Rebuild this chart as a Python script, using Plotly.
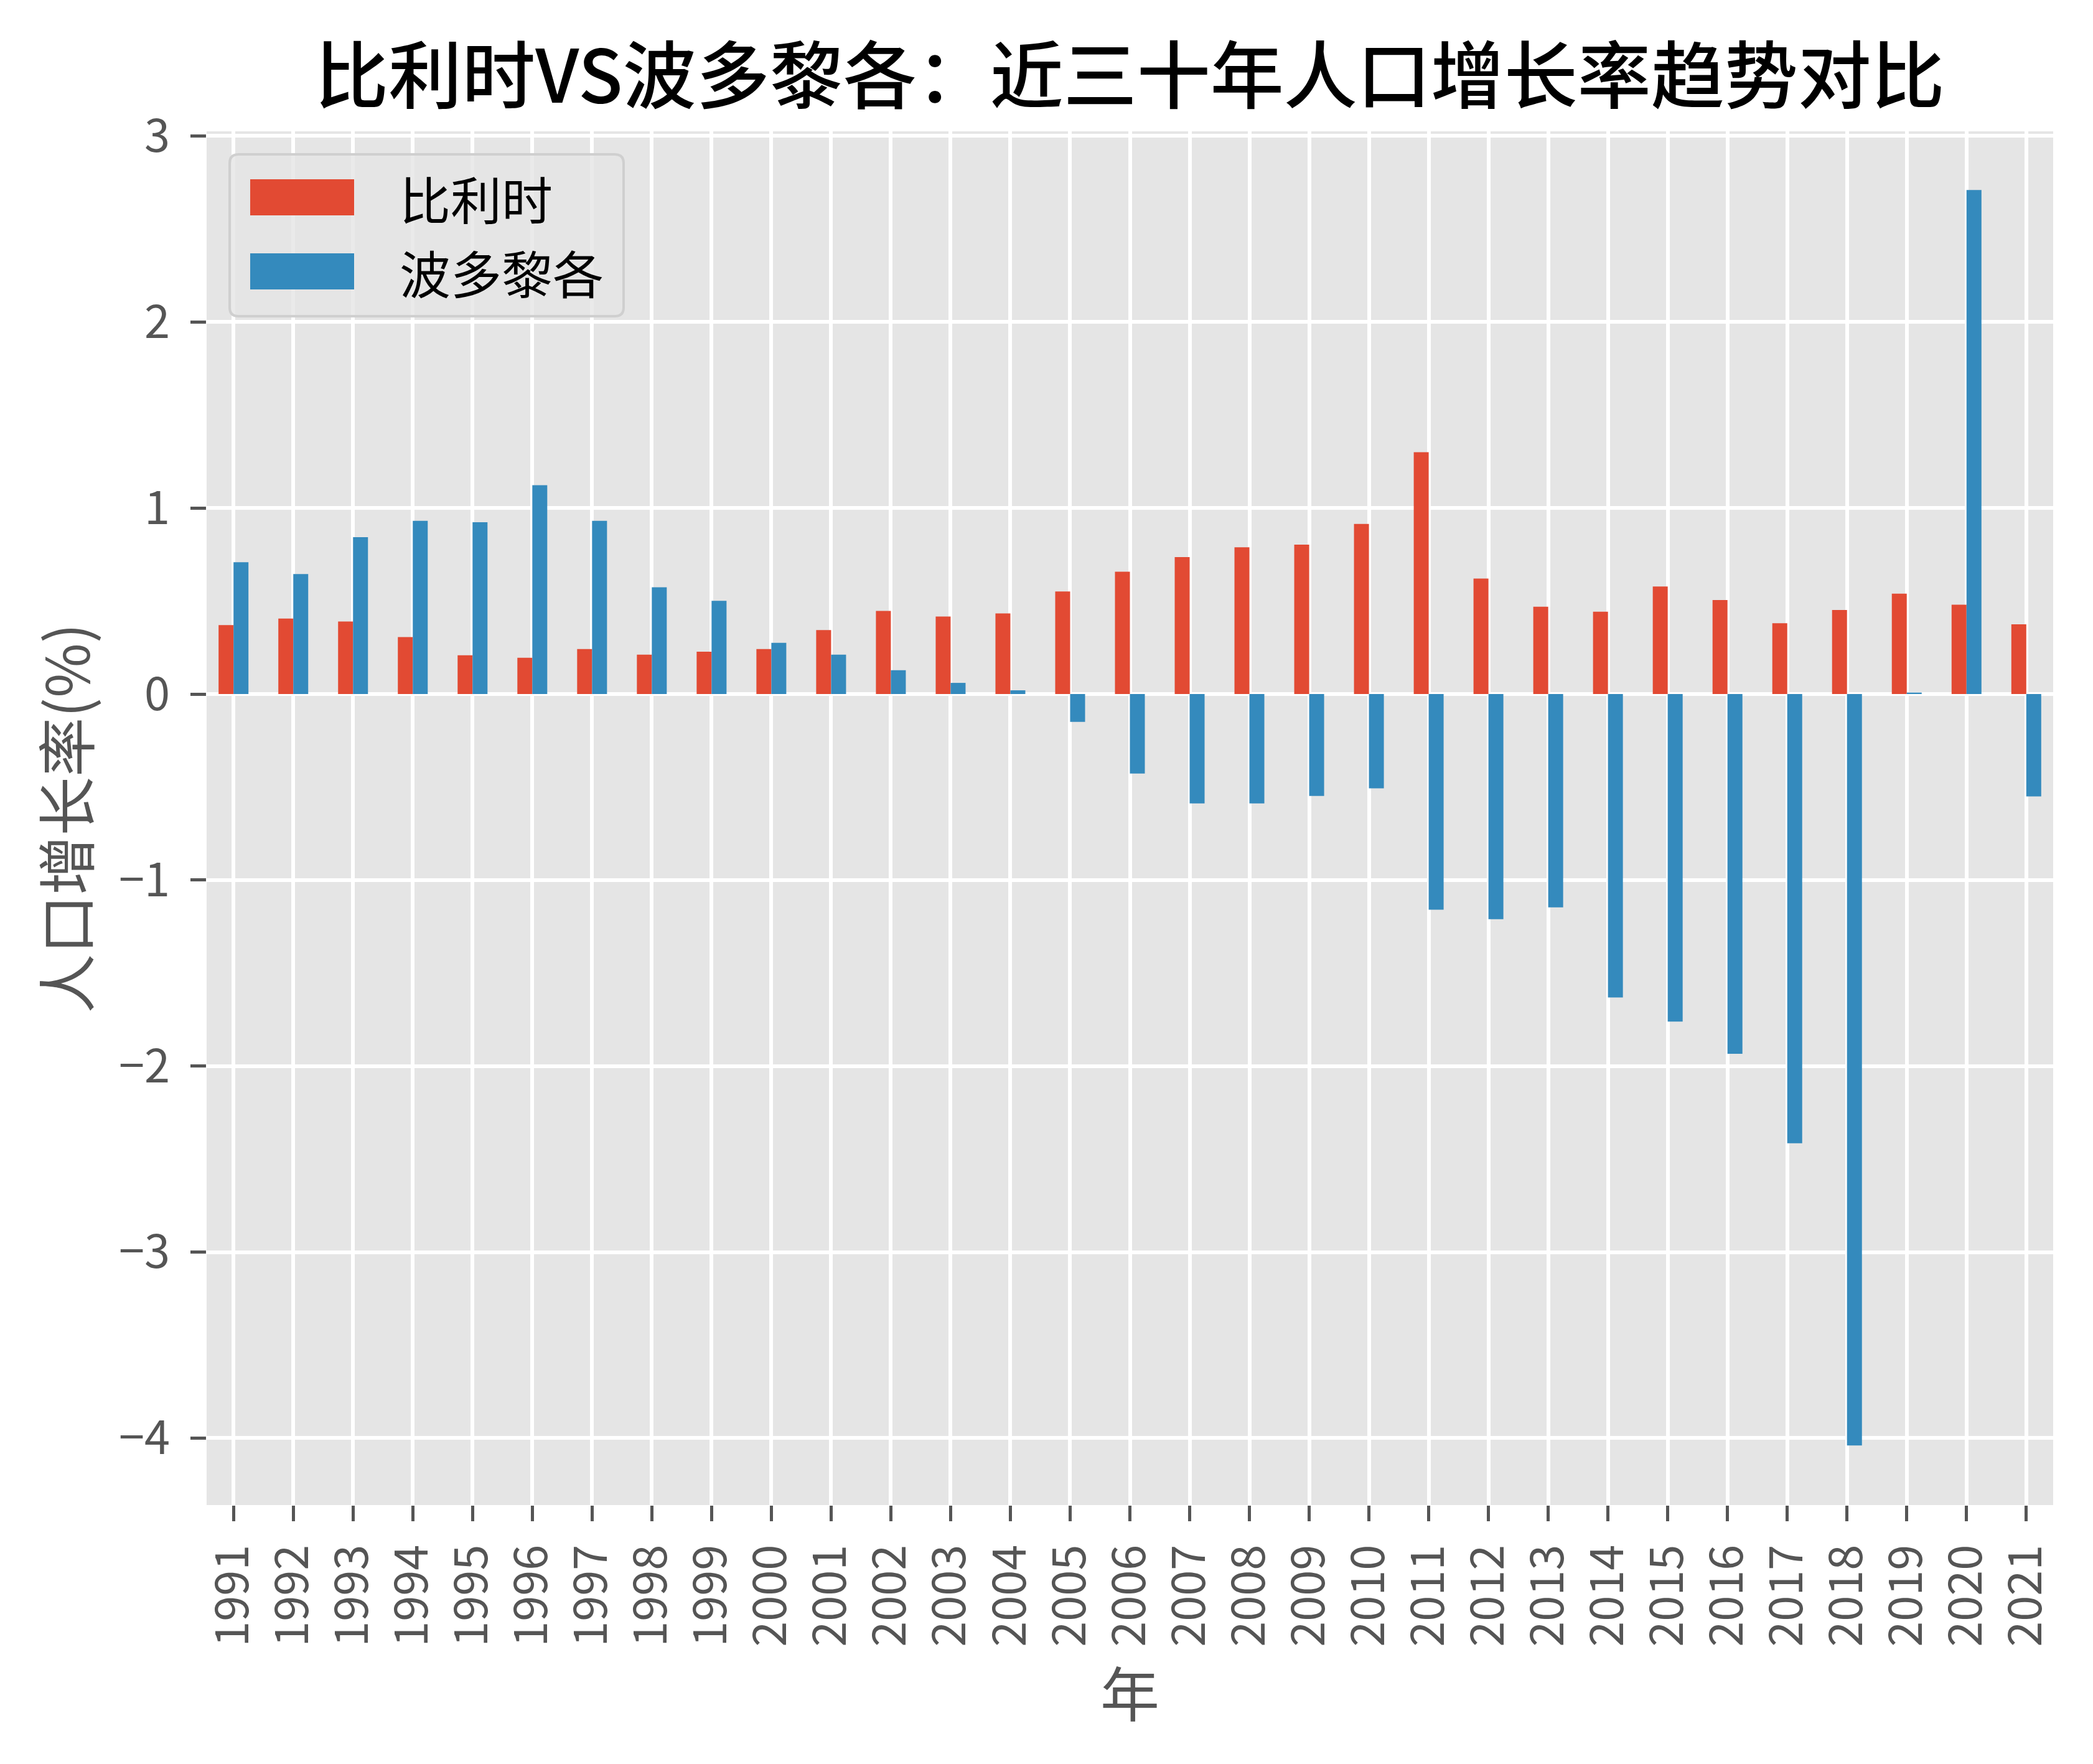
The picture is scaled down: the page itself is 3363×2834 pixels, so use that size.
import plotly.graph_objects as go

# ---------------- data ----------------
years = list(range(1991, 2022))
year_labels = [str(y) for y in years]
series_names = ["比利时", "波多黎各"]
belgium = [0.371, 0.406, 0.390, 0.306, 0.208, 0.195, 0.242, 0.212, 0.228, 0.242,
           0.344, 0.447, 0.417, 0.433, 0.551, 0.658, 0.736, 0.789, 0.803, 0.914,
           1.300, 0.621, 0.469, 0.443, 0.578, 0.505, 0.381, 0.452, 0.540, 0.480,
           0.375]
puerto_rico = [0.709, 0.645, 0.843, 0.931, 0.924, 1.123, 0.931, 0.574, 0.501, 0.275,
               0.212, 0.128, 0.060, 0.020, -0.150, -0.427, -0.588, -0.588, -0.548, -0.507,
               -1.159, -1.210, -1.147, -1.631, -1.761, -1.934, -2.415, -4.040, 0.008, 2.710,
               -0.550]
y_ticks = [-4, -3, -2, -1, 0, 1, 2, 3]

title_text = "比利时VS波多黎各：近三十年人口增长率趋势对比"
x_title = "年"
y_title = "人口增长率(%)"

# ---------------- style ----------------
W, H = 3363, 2834
OFF = 8  # default body margin of the html page
PL, PR, PT, PB = 332, 3299, 211, 2418  # plot area in page pixels
RED = "#E24A33"
BLUE = "#348ABD"
FONT = "Noto Sans CJK SC"
GREY_TXT = "#555555"


def px(x):
    return (x - PL) / (PR - PL)


def py(y):
    return (PB - y) / (PB - PT)


fig = go.Figure()
fig.add_trace(go.Bar(x=years, y=belgium, name=series_names[0],
                     marker=dict(color=RED, line=dict(width=0)), showlegend=False))
fig.add_trace(go.Bar(x=years, y=puerto_rico, name=series_names[1],
                     marker=dict(color=BLUE, line=dict(width=0)), showlegend=False))

# ---------------- custom legend (matplotlib-like) ----------------
shapes = []
x0, x1, y0, y1, r = 369, 1002, 248, 508, 14
path = (f"M {px(x0 + r)},{py(y0)} L {px(x1 - r)},{py(y0)} Q {px(x1)},{py(y0)} {px(x1)},{py(y0 + r)} "
        f"L {px(x1)},{py(y1 - r)} Q {px(x1)},{py(y1)} {px(x1 - r)},{py(y1)} "
        f"L {px(x0 + r)},{py(y1)} Q {px(x0)},{py(y1)} {px(x0)},{py(y1 - r)} "
        f"L {px(x0)},{py(y0 + r)} Q {px(x0)},{py(y0)} {px(x0 + r)},{py(y0)} Z")
shapes.append(dict(type="path", xref="paper", yref="paper", path=path,
                   fillcolor="rgba(229,229,229,0.8)", line=dict(color="#CFCFCF", width=4),
                   layer="above"))
patches = [(288, 346, RED), (407, 465, BLUE)]
for (ya, yb, col) in patches:
    shapes.append(dict(type="rect", xref="paper", yref="paper",
                       x0=px(402), x1=px(569), y0=py(yb), y1=py(ya),
                       fillcolor=col, line=dict(width=0), layer="above"))
annotations = []
for name, (ya, yb, col) in zip(series_names, patches):
    annotations.append(dict(xref="paper", yref="paper", x=px(640), y=py((ya + yb) / 2),
                            xanchor="left", yanchor="middle", text=name, showarrow=False,
                            font=dict(family=FONT, size=82, color="black")))

fig.update_layout(
    width=W, height=H,
    margin=dict(l=PL - OFF, r=W - PR + OFF, t=PT - OFF, b=H - PB + OFF, pad=0),
    paper_bgcolor="white", plot_bgcolor="#E5E5E5",
    barmode="group", bargap=0.5, bargroupgap=0,
    font=dict(family=FONT, color=GREY_TXT),
    title=dict(text=title_text, x=0.5, xref="paper", y=1 - (124 - OFF) / H, yref="container",
               xanchor="center", yanchor="middle",
               font=dict(family=FONT, size=118, color="black", weight=500)),
    shapes=shapes, annotations=annotations,
    showlegend=False,
)
fig.update_xaxes(
    range=[years[0] - 0.45, years[-1] + 0.45],
    tickmode="array", tickvals=years, ticktext=year_labels, tickangle=-90,
    tickfont=dict(family=FONT, size=74, color=GREY_TXT),
    ticks="outside", ticklen=25, tickwidth=5, tickcolor=GREY_TXT, ticklabelstandoff=8,
    showgrid=True, gridcolor="white", gridwidth=6, zeroline=False, showline=False,
    title=dict(text=x_title, font=dict(family=FONT, size=95, color=GREY_TXT), standoff=46),
)
fig.update_yaxes(
    range=[-4.36, 3.025],
    tickmode="array", tickvals=y_ticks,
    tickfont=dict(family=FONT, size=74, color=GREY_TXT),
    ticks="outside", ticklen=25, tickwidth=5, tickcolor=GREY_TXT, ticklabelstandoff=18,
    showgrid=True, gridcolor="white", gridwidth=6, zeroline=False, showline=False,
    title=dict(text=y_title, font=dict(family=FONT, size=95, color=GREY_TXT), standoff=14),
)

fig.write_html("out.html")
